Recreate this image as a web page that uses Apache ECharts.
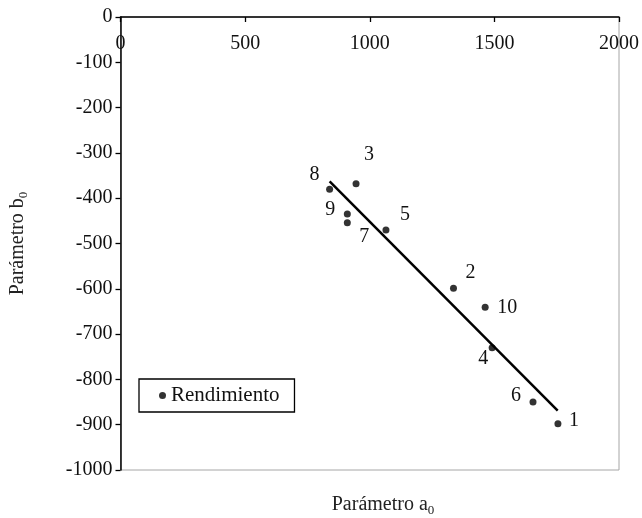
<!DOCTYPE html>
<html>
<head>
<meta charset="utf-8">
<script src="https://cdn.jsdelivr.net/npm/echarts@6/dist/echarts.min.js"></script>
<style>html,body{margin:0;padding:0;background:#fff}#c{width:642px;height:518px}</style>
</head>
<body>
<div id="c"></div>
<script>
// Data
const pointLabels = ['1','2','3','4','5','6','7','8','9','10'];
const a0Values = [1755, 1336, 945, 1491, 1065, 1655, 910, 839, 910, 1463];
const b0Values = [-898, -599, -368, -730, -470, -850, -454, -380, -435, -641];
const trendA0 = [839, 1754];
const trendB0 = [-363, -869];
const xTicks = [0, 500, 1000, 1500, 2000];
const yTicks = [0, -100, -200, -300, -400, -500, -600, -700, -800, -900, -1000];

// label placement (styling)
const labelOffsets = {
  '1': [16, -3], '2': [17, -16], '3': [13, -29], '4': [-9, 11], '5': [19, -15],
  '6': [-17, -6], '7': [17, 14], '8': [-15, -14], '9': [-17, -4], '10': [22, 0]
};

const FONT = 'Liberation Serif';
const chart = echarts.init(document.getElementById('c'));

const scatterData = pointLabels.map((n, i) => ({
  value: [a0Values[i], b0Values[i]],
  name: n,
  label: { offset: labelOffsets[n] }
}));

chart.setOption({
  animation: false,
  grid: { left: 118, right: 22, top: 17, bottom: 48, show: true, borderColor: '#a6a6a6', borderWidth: 1 },
  title: {
    text: 'Parámetro a{s|0}',
    left: 378, top: 487, textAlign: 'center',
    textStyle: {
      fontFamily: FONT, fontSize: 20, fontWeight: 'normal', color: '#222',
      rich: { s: { fontFamily: FONT, fontSize: 13, color: '#222', verticalAlign: 'bottom', padding: [12, 0, 0, 0] } }
    }
  },
  legend: {
    left: 139, top: 379,
    data: [{ name: 'Rendimiento', icon: 'circle' }],
    itemWidth: 7, itemHeight: 7, itemGap: 7,
    padding: [6, 15, 6, 20],
    borderColor: '#000', borderWidth: 1.3, backgroundColor: '#fff',
    textStyle: { fontFamily: FONT, fontSize: 21, color: '#111' }
  },
  xAxis: {
    type: 'value', position: 'top', min: 0, max: 2000, interval: 500,
    axisLine: { show: true, onZero: false, lineStyle: { color: '#000', width: 1.5 } },
    axisTick: { show: true, inside: true, length: 5, lineStyle: { color: '#000', width: 1.3 } },
    axisLabel: { inside: true, margin: 17, fontFamily: FONT, fontSize: 20, color: '#111',
      formatter: v => xTicks.includes(v) ? String(v) : '' },
    splitLine: { show: false }
  },
  yAxis: {
    type: 'value', min: -1000, max: 0, interval: 100,
    name: 'Parámetro b{s|0}', nameLocation: 'middle', nameRotate: 90, nameGap: 90,
    nameTextStyle: { fontFamily: FONT, fontSize: 20, color: '#222',
      rich: { s: { fontFamily: FONT, fontSize: 13, color: '#222', verticalAlign: 'bottom', padding: [12, 0, 0, 0] } } },
    axisLine: { show: true, onZero: false, lineStyle: { color: '#000', width: 1.5 } },
    axisTick: { show: true, inside: false, length: 5, lineStyle: { color: '#000', width: 1.3 } },
    axisLabel: { margin: 8, fontFamily: FONT, fontSize: 20, color: '#111',
      formatter: v => yTicks.includes(v) ? String(v) : '' },
    splitLine: { show: false }
  },
  series: [
    {
      name: 'trend', type: 'line',
      data: trendA0.map((x, i) => [x, trendB0[i]]),
      symbol: 'none', lineStyle: { color: '#000', width: 2.5 }, z: 2, silent: true
    },
    {
      name: 'Rendimiento', type: 'scatter',
      data: scatterData,
      symbol: 'circle', symbolSize: 7,
      itemStyle: { color: '#000' },
      label: { show: true, position: 'inside', formatter: p => p.name,
        fontFamily: FONT, fontSize: 20, color: '#111', textBorderWidth: 0, opacity: 1 },
      z: 3
    }
  ]
});
</script>
</body>
</html>
